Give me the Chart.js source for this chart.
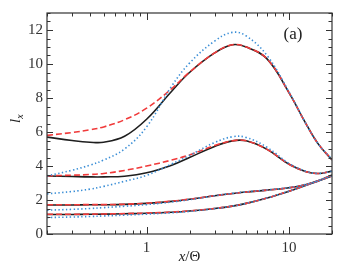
<!DOCTYPE html>
<html>
<head>
<meta charset="utf-8">
<script src="https://cdn.jsdelivr.net/npm/chart.js@4/dist/chart.umd.min.js"></script>
<style>
    html, body { margin: 0; padding: 0; background: #fff; }
    #wrap { width: 338px; height: 266px; }
</style>
</head>
<body>
<div id="wrap"><canvas id="ixChart"></canvas></div>
<script>
// x/Θ sample points (log axis)
const xVals = [0.2, 0.3, 0.4, 0.5, 0.7, 1, 1.5, 2, 3, 4, 5, 7, 10, 13, 16, 20];

// top family (peak ~11)
const g1Solid  = [5.70, 5.50, 5.40, 5.40, 5.75, 6.75, 8.40, 9.50, 10.65, 11.13, 11.00, 10.30, 8.30, 6.55, 5.30, 4.35];
const g1Dashed = [5.80, 5.97, 6.13, 6.30, 6.72, 7.40, 8.55, 9.52, 10.65, 11.13, 11.00, 10.30, 8.30, 6.55, 5.30, 4.38];
const g1Dotted = [3.42, 3.75, 4.05, 4.35, 5.00, 6.30, 8.70, 10.05, 11.35, 11.86, 11.65, 10.50, 8.35, 6.55, 5.30, 4.40];

// second family (peak ~5.5)
const g2Solid  = [3.41, 3.38, 3.36, 3.36, 3.40, 3.60, 4.05, 4.50, 5.15, 5.48, 5.48, 4.98, 4.10, 3.68, 3.56, 3.70];
const g2Dashed = [3.42, 3.46, 3.50, 3.56, 3.74, 4.00, 4.35, 4.65, 5.20, 5.48, 5.48, 4.98, 4.10, 3.68, 3.56, 3.70];
const g2Dotted = [2.36, 2.50, 2.64, 2.80, 3.10, 3.45, 4.12, 4.62, 5.38, 5.72, 5.68, 5.10, 4.15, 3.70, 3.56, 3.70];

// third family
const g3Solid  = [1.71, 1.71, 1.72, 1.72, 1.74, 1.80, 1.92, 2.04, 2.25, 2.38, 2.47, 2.58, 2.72, 2.90, 3.13, 3.47];
const g3Dashed = [1.72, 1.72, 1.73, 1.73, 1.75, 1.81, 1.93, 2.05, 2.25, 2.38, 2.47, 2.58, 2.72, 2.90, 3.13, 3.47];
const g3Dotted = [1.40, 1.45, 1.50, 1.55, 1.63, 1.73, 1.88, 2.02, 2.25, 2.39, 2.48, 2.59, 2.73, 2.91, 3.14, 3.48];

// bottom family
const g4Solid  = [1.15, 1.15, 1.16, 1.17, 1.19, 1.22, 1.28, 1.35, 1.50, 1.64, 1.80, 2.12, 2.52, 2.85, 3.12, 3.42];
const g4Dashed = [1.16, 1.16, 1.17, 1.18, 1.20, 1.23, 1.29, 1.36, 1.50, 1.64, 1.80, 2.12, 2.52, 2.85, 3.12, 3.42];
const g4Dotted = [0.97, 1.00, 1.03, 1.06, 1.11, 1.17, 1.25, 1.33, 1.49, 1.64, 1.80, 2.12, 2.52, 2.85, 3.12, 3.42];

const xLabelTicks = [1, 10];
const xMinorTicks = [0.2, 0.3, 0.4, 0.5, 0.6, 0.7, 0.8, 0.9, 2, 3, 4, 5, 6, 7, 8, 9, 20];
const yLabelTicks = [0, 2, 4, 6, 8, 10, 12];

const SERIF = '"Liberation Serif", "DejaVu Serif", serif';

function toPoints(values) {
    return xVals.map((x, i) => ({ x: x, y: values[i] }));
}

function solid(values) {
    return { data: toPoints(values), borderColor: "#1e1e1e", borderWidth: 1.6, order: 3 };
}

function dashed(values) {
    return { data: toPoints(values), borderColor: "#f03a3a", borderWidth: 1.6, borderDash: [6, 3], order: 2 };
}

function dotted(values) {
    return { data: toPoints(values), borderColor: "#3a8ed6", borderWidth: 1.6, borderDash: [1.4, 2.4], order: 1 };
}

// inward ticks on all four sides, frame, axis titles and panel tag
const framePlugin = {
    id: "framePlugin",
    afterDatasetsDraw(chart) {
        const { ctx, chartArea: a, scales } = chart;
        const xs = scales.x, ys = scales.y;
        ctx.save();
        ctx.strokeStyle = "#333";
        ctx.lineWidth = 1;
        ctx.beginPath();

        const xTick = (v, len) => {
            const px = Math.round(xs.getPixelForValue(v)) + 0.5;
            ctx.moveTo(px, a.bottom); ctx.lineTo(px, a.bottom - len);
            ctx.moveTo(px, a.top); ctx.lineTo(px, a.top + len);
        };
        xLabelTicks.forEach(v => xTick(v, 7));
        xMinorTicks.forEach(v => xTick(v, 3.5));

        for (let v = 0; v <= 13; v += 0.5) {
            const py = Math.round(ys.getPixelForValue(v)) + 0.5;
            const len = yLabelTicks.includes(v) ? 6 : 3.5;
            ctx.moveTo(a.left, py); ctx.lineTo(a.left + len, py);
            ctx.moveTo(a.right, py); ctx.lineTo(a.right - len, py);
        }
        ctx.stroke();

        ctx.lineWidth = 1.2;
        ctx.strokeRect(a.left, a.top, a.right - a.left, a.bottom - a.top);

        // x axis title: x/Θ
        ctx.fillStyle = "#222";
        ctx.textBaseline = "middle";
        ctx.textAlign = "left";
        ctx.font = "italic 15px " + SERIF;
        const wx = ctx.measureText("x").width;
        ctx.font = "15px " + SERIF;
        const wRest = ctx.measureText("/Θ").width;
        let tx = (a.left + a.right) / 2 - (wx + wRest) / 2;
        ctx.font = "italic 15px " + SERIF;
        ctx.fillText("x", tx, 257);
        ctx.font = "15px " + SERIF;
        ctx.fillText("/Θ", tx + wx, 257);

        // y axis title: l_x
        ctx.save();
        ctx.translate(16, 118);
        ctx.rotate(-Math.PI / 2);
        ctx.font = "italic 15px " + SERIF;
        const wl = ctx.measureText("l").width;
        ctx.fillText("l", -5, 0);
        ctx.font = "italic 10px " + SERIF;
        ctx.fillText("x", -5 + wl, 4);
        ctx.restore();

        // panel tag
        ctx.font = "17px " + SERIF;
        ctx.textAlign = "center";
        ctx.fillText("(a)", 293, 35);
        ctx.restore();
    }
};

const canvas = document.getElementById("ixChart");

new Chart(canvas, {
    type: "line",
    data: {
        datasets: [
            dotted(g1Dotted), dotted(g2Dotted), dotted(g3Dotted), dotted(g4Dotted),
            dashed(g1Dashed), dashed(g2Dashed), dashed(g3Dashed), dashed(g4Dashed),
            solid(g1Solid), solid(g2Solid), solid(g3Solid), solid(g4Solid)
        ]
    },
    options: {
        responsive: true,
        maintainAspectRatio: false,
        animation: false,
        events: [],
        layout: { padding: { top: 4, right: 6, bottom: 0, left: 0 } },
        elements: {
            point: { radius: 0 },
            line: { tension: 0.4, fill: false }
        },
        plugins: {
            legend: { display: false },
            tooltip: { enabled: false }
        },
        scales: {
            x: {
                type: "logarithmic",
                min: 0.2,
                max: 20,
                grid: { display: false, drawTicks: false },
                border: { display: false },
                afterFit: (scale) => { scale.height = 32; },
                ticks: {
                    autoSkip: false,
                    maxRotation: 0,
                    padding: 5,
                    color: "#333",
                    font: { family: SERIF, size: 15 },
                    callback: (value) => xLabelTicks.includes(value) ? String(value) : ""
                }
            },
            y: {
                min: 0,
                max: 13,
                grid: { display: false, drawTicks: false },
                border: { display: false },
                afterFit: (scale) => { scale.width = 47; },
                ticks: {
                    stepSize: 2,
                    padding: 4,
                    color: "#333",
                    font: { family: SERIF, size: 15 },
                    callback: (value) => yLabelTicks.includes(value) ? String(value) : ""
                }
            }
        }
    },
    plugins: [framePlugin]
});
</script>
</body>
</html>
